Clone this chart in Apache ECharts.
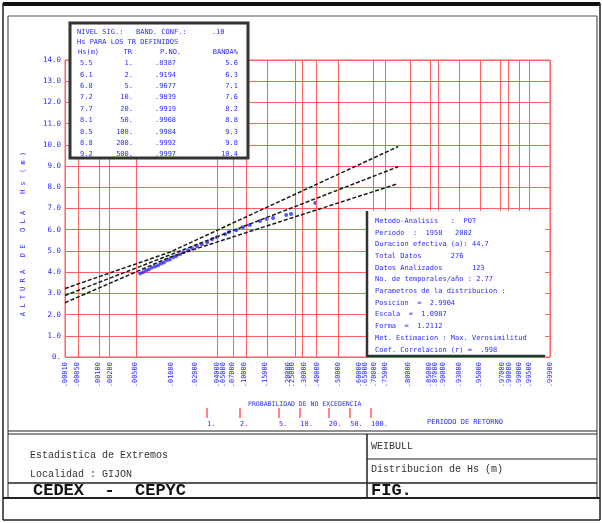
<!DOCTYPE html>
<html><head><meta charset="utf-8">
<script src="https://cdn.jsdelivr.net/npm/echarts@6/dist/echarts.min.js"></script>
<style>html,body{margin:0;padding:0;background:#fff}#c{width:602px;height:523px}</style>
</head><body><div id="c"></div>
<script>
// Hs axis (m)
const hsMin = 0, hsMax = 14, hsStep = 1;

// Probability axis, positions on a 0-100 plotting scale
const probGridPos = [0, 2.7, 7.0, 9.1, 14.6, 31.3, 34.6, 37.3, 41.6, 47.4, 48.9, 51.8, 56.3, 63.5, 66.0, 71.1, 75.3, 76.9, 81.2, 85.6, 89.7, 91.3, 93.6, 95.7, 100];
const probLabelPos = [0, 2.5, 6.8, 9.3, 14.4, 21.9, 26.8, 31.3, 32.6, 34.4, 36.9, 41.2, 46.0, 46.8, 49.3, 52.0, 56.3, 60.6, 61.9, 63.7, 66.0, 70.7, 75.1, 76.3, 77.9, 81.2, 85.4, 90.1, 91.5, 93.6, 95.7, 100];
const probLabelText = ['.00010', '.00050', '.00100', '.00200', '.00500', '.01000', '.02000', '.04000', '.05000', '.07000', '.10000', '.15000', '.20000', '.25000', '.30000', '.40000', '.50000', '.60000', '.65000', '.70000', '.75000', '.80000', '.85000', '.87000', '.90000', '.93000', '.95000', '.97000', '.98000', '.99000', '.99500', '.99900'];

// Return period scale (years)
const rpPos = [29.3, 36.1, 44.1, 48.5, 54.4, 58.8, 63.1];
const rpText = ['1.', '2.', '5.', '10.', '20.', '50.', '100.'];

// Storm peaks: plotting position and Hs (m)
const obsPos = [15.5, 16.1, 16.7, 17.3, 17.9, 18.6, 19.2, 19.8, 20.4, 21.0, 21.6, 22.3, 22.9, 23.7, 24.5, 25.4, 26.2, 27.2, 28.2, 29.3, 30.3, 31.3, 33.0, 33.8, 35.3, 36.7, 38.1, 40.2, 41.6, 42.9, 45.6, 46.6, 51.6];
const obsHs = [3.94, 3.99, 4.08, 4.13, 4.22, 4.27, 4.32, 4.41, 4.46, 4.56, 4.60, 4.70, 4.75, 4.84, 4.94, 5.03, 5.13, 5.22, 5.32, 5.41, 5.55, 5.65, 5.79, 5.89, 5.98, 6.12, 6.22, 6.41, 6.50, 6.55, 6.69, 6.74, 7.26];

// Fitted Weibull line and confidence band
const fitPos = [0, 68.7];
const fitHs = [2.90, 8.97];
const bandUpPos = [0, 21.6, 68.7];
const bandUpHs = [3.23, 4.94, 9.92];
const bandLoPos = [0, 21.6, 68.5];
const bandLoHs = [2.56, 4.70, 8.16];

// Table of Hs for selected return periods
const tabHs = ['5.5', '6.1', '6.8', '7.2', '7.7', '8.1', '8.5', '8.8', '9.2'];
const tabTr = ['1.', '2.', '5.', '10.', '20.', '50.', '100.', '200.', '500.'];
const tabProb = ['.8387', '.9194', '.9677', '.9839', '.9919', '.9968', '.9984', '.9992', '.9997'];
const tabBand = ['5.6', '6.3', '7.1', '7.6', '8.2', '8.8', '9.3', '9.8', '10.4'];

// Fit summary
const infoLines = [
  'Metodo-Analisis   :  POT',
  'Periodo  :  1958   2002',
  'Duracion efectiva (a): 44.7',
  'Total Datos       276',
  'Datos Analizados       123',
  'No. de temporales/año : 2.77',
  'Parametros de la distribucion :',
  'Posicion  =  2.9904',
  'Escala  =  1.0987',
  'Forma  =  1.2112',
  'Met. Estimacion : Max. Verosimilitud',
  'Coef. Correlacion (r) =  .998'
];

const RED = '#ff6060';
const BLUE = '#2b2bff';
const MONO = '"DejaVu Sans Mono", monospace';
const PLAIN = '"Liberation Mono", monospace';

const pairs = (xs, ys) => xs.map((x, i) => [x, ys[i]]);

const g = [];
function line(x1, y1, x2, y2, w, c) {
  g.push({ type: 'line', z: 100, silent: true, shape: { x1, y1, x2, y2 }, style: { stroke: c || '#222', lineWidth: w || 1 } });
}
function text(x, y, s, font, fill, align, rot) {
  g.push({ type: 'text', z: 101, silent: true, x, y, rotation: rot || 0,
    style: { text: s, font, fill: fill || '#222', textAlign: align || 'left', textVerticalAlign: 'middle' } });
}

// drawing frame
g.push({ type: 'rect', z: 100, silent: true, shape: { x: 3, y: 2, width: 597, height: 4 }, style: { fill: '#111' } });
line(3, 3, 3, 520, 1.5);
line(600, 3, 600, 520, 1.5);
line(3, 520, 600, 520, 1.5);
line(8, 16, 597, 16, 1.2, '#555');
line(8, 16, 8, 498, 1.2, '#555');
line(597, 16, 597, 498, 1.2, '#555');

// title block
line(8, 431, 597, 431, 1.2);
line(8, 434, 597, 434, 1.2);
line(367, 434, 367, 498, 1.5);
line(367, 459, 597, 459, 1.2);
line(8, 483, 597, 483, 1.5);
line(3, 498, 600, 498, 2);
text(30, 455, 'Estadistica de Extremos', '10px ' + PLAIN, '#333');
text(30, 474, 'Localidad : GIJON', '10px ' + PLAIN, '#333');
text(33, 491, 'CEDEX  -  CEPYC', 'bold 17px ' + PLAIN, '#111');
text(371, 446, 'WEIBULL', '10px ' + PLAIN, '#333');
text(371, 469, 'Distribucion de Hs (m)', '10px ' + PLAIN, '#333');
text(371, 491, 'FIG.', 'bold 17px ' + PLAIN, '#111');

// axis captions
text(23, 234, 'A L T U R A   D E   O L A    H s  ( m )', '7px ' + MONO, BLUE, 'center', Math.PI / 2);
text(248, 404, 'PROBABILIDAD DE NO EXCEDENCIA', '6.5px ' + MONO, BLUE);
text(427, 422, 'PERIODO DE RETORNO', '7px ' + MONO, BLUE);

// return-period table box
g.push({ type: 'rect', z: 100, silent: true, shape: { x: 70, y: 23, width: 178, height: 135 }, style: { fill: '#fff', stroke: '#333', lineWidth: 3 } });
const tf = '7px ' + MONO;
text(77, 32, 'NIVEL SIG.:   BAND. CONF.:      .10', tf, BLUE);
text(77, 42, 'Hs PARA LOS TR DEFINIDOS', tf, BLUE);
text(78, 52, 'Hs(m)', tf, BLUE);
text(132, 52, 'TR', tf, BLUE, 'right');
text(160, 52, 'P.NO.', tf, BLUE);
text(238, 52, 'BANDA%', tf, BLUE, 'right');
tabHs.forEach((v, i) => {
  const y = 63.3 + i * 11.4;
  text(80, y, v, tf, BLUE);
  text(133, y, tabTr[i], tf, BLUE, 'right');
  text(155, y, tabProb[i], tf, BLUE);
  text(238, y, tabBand[i], tf, BLUE, 'right');
});

// fit summary box
g.push({ type: 'rect', z: 100, silent: true, shape: { x: 368, y: 211, width: 177, height: 145 }, style: { fill: '#fff' } });
line(367, 211, 367, 357, 2.5, '#333');
line(367, 356, 545, 356, 2.5, '#333');
infoLines.forEach((s, i) => text(375, 221 + i * 11.7, s, '7px ' + MONO, BLUE));

const dashed = { color: '#1a1a1a', width: 1.5, type: [4, 2] };

const option = {
  animation: false,
  backgroundColor: '#fff',
  grid: { left: 65, top: 60, width: 485, height: 297, show: true, borderColor: RED, borderWidth: 1 },
  xAxis: [
    {
      type: 'value', min: 0, max: 100, position: 'bottom',
      axisLine: { show: false }, axisTick: { show: false }, splitLine: { show: false },
      axisLabel: {
        customValues: probLabelPos, rotate: 90, margin: 5, color: BLUE,
        fontFamily: MONO, fontSize: 7,
        formatter: v => probLabelText[probLabelPos.indexOf(v)] || ''
      }
    },
    {
      type: 'value', min: 0, max: 100, position: 'bottom', offset: 51,
      axisLine: { show: false }, splitLine: { show: false },
      axisTick: { customValues: rpPos, length: 10, lineStyle: { color: RED, width: 1.5 } },
      axisLabel: {
        customValues: rpPos, margin: 13, color: BLUE, fontFamily: MONO, fontSize: 7, align: 'left',
        formatter: v => rpText[rpPos.indexOf(v)] || ''
      }
    }
  ],
  yAxis: {
    type: 'value', min: hsMin, max: hsMax, interval: hsStep,
    axisLine: { show: false }, axisTick: { show: false },
    splitLine: { lineStyle: { color: RED, width: 1 } },
    axisLabel: { color: BLUE, fontFamily: MONO, fontSize: 7.5, margin: 4,
      formatter: v => v === 0 ? '0.' : v.toFixed(1) }
  },
  graphic: g,
  series: [
    {
      type: 'scatter', data: pairs(obsPos, obsHs), symbol: 'circle', symbolSize: 4,
      itemStyle: { color: BLUE }, z: 4,
      markLine: {
        silent: true, symbol: ['none', 'none'], label: { show: false },
        lineStyle: { color: RED, width: 1, type: 'solid' },
        data: probGridPos.map(v => ({ xAxis: v }))
      }
    },
    { type: 'line', data: pairs(fitPos, fitHs), showSymbol: false, lineStyle: dashed, z: 5 },
    { type: 'line', data: pairs(bandUpPos, bandUpHs), showSymbol: false, lineStyle: dashed, z: 5 },
    { type: 'line', data: pairs(bandLoPos, bandLoHs), showSymbol: false, lineStyle: dashed, z: 5 }
  ]
};

const chart = echarts.init(document.getElementById('c'), null, { renderer: 'canvas' });
chart.setOption(option);
</script>
</body></html>
